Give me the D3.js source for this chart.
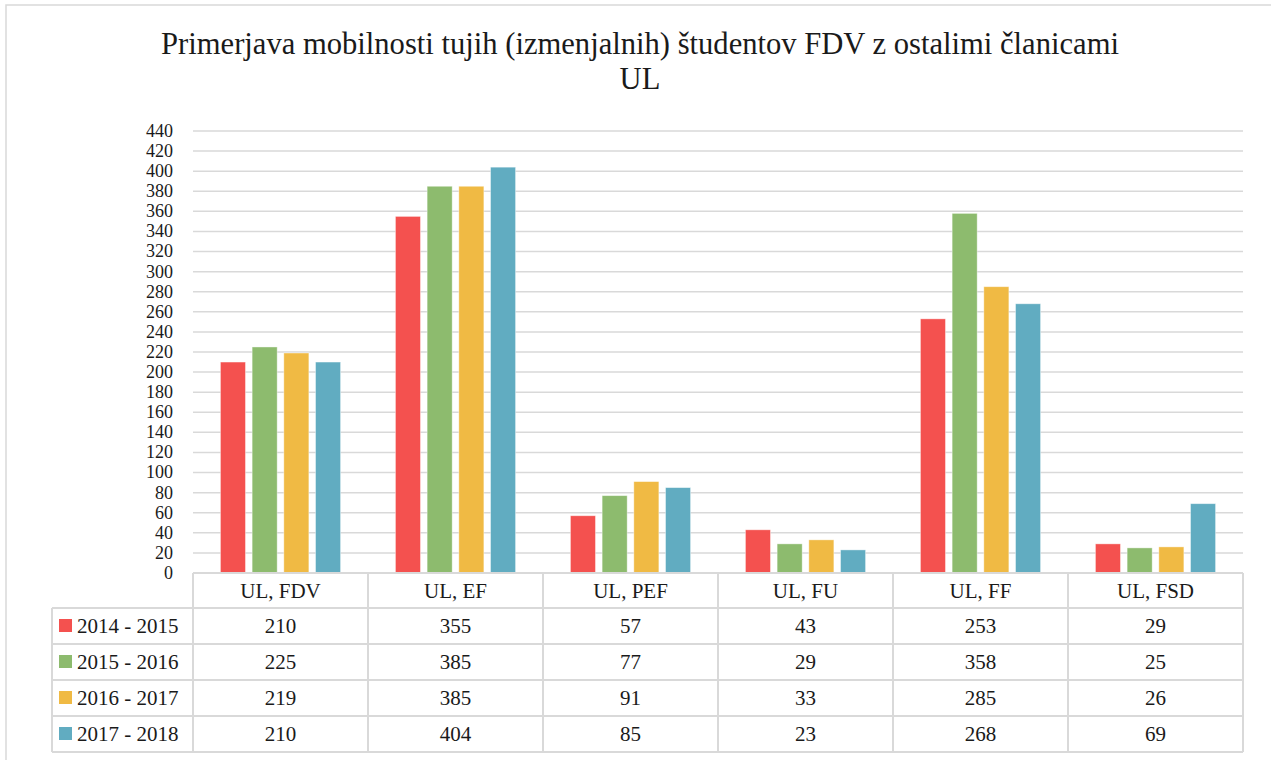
<!DOCTYPE html>
<html>
<head>
<meta charset="utf-8">
<script src="https://cdn.jsdelivr.net/npm/d3@7"></script>
<style>
  body { margin: 0; background: #fff; }
  text { font-family: "Liberation Serif", "DejaVu Serif", serif; fill: #1a1a1a; }
</style>
</head>
<body>
<script>
const width = 1271;
const height = 760;

const titleLines = ['Primerjava mobilnosti tujih (izmenjalnih) študentov FDV z ostalimi članicami', 'UL'];
const categories = ['UL, FDV', 'UL, EF', 'UL, PEF', 'UL, FU', 'UL, FF', 'UL, FSD'];
const seriesNames = ['2014 - 2015', '2015 - 2016', '2016 - 2017', '2017 - 2018'];
const values2014 = [210, 355, 57, 43, 253, 29];
const values2015 = [225, 385, 77, 29, 358, 25];
const values2016 = [219, 385, 91, 33, 285, 26];
const values2017 = [210, 404, 85, 23, 268, 69];
const yTicks = d3.range(0, 441, 20);
const colors = ['#F4514F', '#8DBB6E', '#F0BA44', '#61ACC1'];

const series = seriesNames.map((name, i) => ({
    name: name,
    color: colors[i],
    values: [values2014, values2015, values2016, values2017][i]
}));

const plot = {left: 193, right: 1243, top: 131, bottom: 573};
const legendLeft = 52;
const headerH = 35;
const rowH = 36;
const grid = '#d9d9d9';
const fontSize = 21;

const svg = d3.select('body')
    .append('svg')
    .attr('width', width)
    .attr('height', height);

// outer chart border (runs off the right and bottom edge)
svg.append('rect')
    .attr('x', 6).attr('y', 5)
    .attr('width', width + 20).attr('height', height + 20)
    .attr('fill', '#fff')
    .attr('stroke', grid)
    .attr('stroke-width', 1.5);

// title
const title = svg.append('text')
    .attr('text-anchor', 'middle')
    .attr('x', 640);
title.selectAll('tspan')
    .data(titleLines)
    .enter().append('tspan')
    .attr('x', 640)
    .attr('y', (d, i) => 54 + i * 35)
    .text(d => d);
// fit the first line to the reference width
let fs = 26;
title.attr('font-size', fs);
const firstLen = title.select('tspan').node().getComputedTextLength();
fs = fs * 958 / firstLen;
title.attr('font-size', fs.toFixed(2));

const x = d3.scaleBand()
    .domain(categories)
    .range([plot.left, plot.right]);

const y = d3.scaleLinear()
    .domain([0, 440])
    .range([plot.bottom, plot.top]);

const xs = d3.scaleBand()
    .domain(seriesNames)
    .range([0, x.bandwidth()])
    .paddingInner(0.21)
    .paddingOuter(0.865);

// gridlines
svg.append('g')
    .selectAll('line')
    .data(yTicks.filter(d => d > 0))
    .enter().append('line')
    .attr('x1', plot.left).attr('x2', plot.right)
    .attr('y1', d => y(d)).attr('y2', d => y(d))
    .attr('stroke', grid)
    .attr('stroke-width', 1.5);

// y tick labels (kept small enough that neighbours do not collide)
svg.append('g')
    .selectAll('text')
    .data(yTicks)
    .enter().append('text')
    .attr('x', 173)
    .attr('y', d => y(d))
    .attr('dy', '0.33em')
    .attr('text-anchor', 'end')
    .attr('font-size', 18)
    .text(d => d);

// bars
const groups = svg.append('g')
    .selectAll('g')
    .data(series)
    .enter().append('g')
    .attr('fill', d => d.color);
groups.selectAll('rect')
    .data(d => d.values.map((v, i) => ({name: d.name, cat: categories[i], value: v})))
    .enter().append('rect')
    .attr('x', d => x(d.cat) + xs(d.name))
    .attr('width', xs.bandwidth())
    .attr('y', d => y(d.value))
    .attr('height', d => y(0) - y(d.value))
    .attr('stroke', '#fff')
    .attr('stroke-opacity', 0.5)
    .attr('stroke-width', 0.8);

// data table
const table = svg.append('g');
const tableTop = plot.bottom;
const rowsTop = tableTop + headerH;
const tableBottom = rowsTop + rowH * series.length;

// horizontal lines
table.append('line')
    .attr('x1', plot.left).attr('x2', plot.right)
    .attr('y1', tableTop).attr('y2', tableTop)
    .attr('stroke', grid).attr('stroke-width', 2);
table.selectAll('.hline')
    .data(d3.range(series.length + 1))
    .enter().append('line')
    .attr('x1', legendLeft).attr('x2', plot.right)
    .attr('y1', i => rowsTop + i * rowH).attr('y2', i => rowsTop + i * rowH)
    .attr('stroke', grid).attr('stroke-width', 2);

// vertical lines
const colEdges = categories.map(c => x(c)).concat([plot.right]);
table.selectAll('.vline')
    .data(colEdges)
    .enter().append('line')
    .attr('x1', d => d).attr('x2', d => d)
    .attr('y1', tableTop).attr('y2', tableBottom)
    .attr('stroke', grid).attr('stroke-width', 2);
table.append('line')
    .attr('x1', legendLeft).attr('x2', legendLeft)
    .attr('y1', rowsTop).attr('y2', tableBottom)
    .attr('stroke', grid).attr('stroke-width', 2);

// header labels
table.selectAll('.head')
    .data(categories)
    .enter().append('text')
    .attr('x', d => x(d) + x.bandwidth() / 2)
    .attr('y', tableTop + 25)
    .attr('text-anchor', 'middle')
    .attr('font-size', fontSize)
    .text(d => d);

// rows
const rows = table.selectAll('.row')
    .data(series)
    .enter().append('g')
    .attr('transform', (d, i) => `translate(0,${rowsTop + i * rowH})`);
rows.append('rect')
    .attr('x', 59).attr('y', 11)
    .attr('width', 13).attr('height', 13)
    .attr('fill', d => d.color);
rows.append('text')
    .attr('x', 77).attr('y', 25)
    .attr('font-size', fontSize)
    .text(d => d.name);
rows.selectAll('.val')
    .data(d => d.values.map((v, i) => ({cat: categories[i], value: v})))
    .enter().append('text')
    .attr('x', d => x(d.cat) + x.bandwidth() / 2)
    .attr('y', 25)
    .attr('text-anchor', 'middle')
    .attr('font-size', fontSize)
    .text(d => d.value);
</script>
</body>
</html>
